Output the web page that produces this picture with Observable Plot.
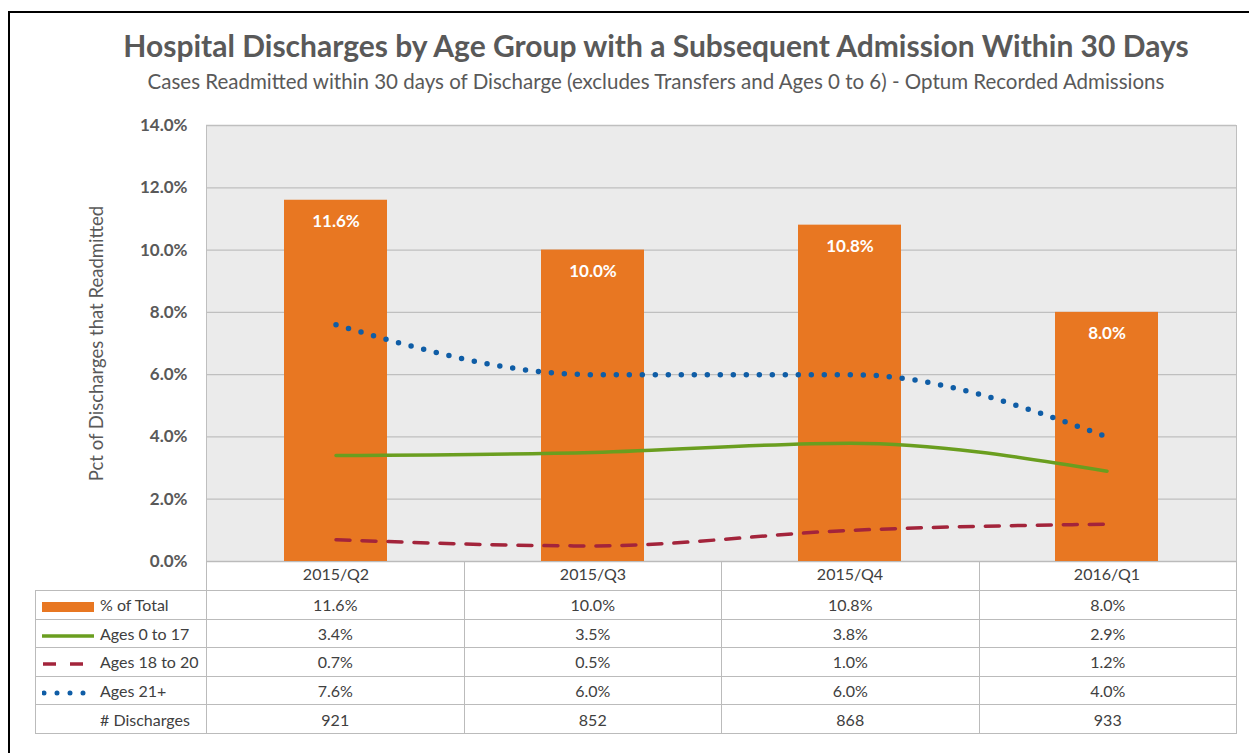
<!DOCTYPE html>
<html>
<head>
<meta charset="utf-8">
<script src="https://cdn.jsdelivr.net/npm/d3@7"></script>
<script src="https://cdn.jsdelivr.net/npm/@observablehq/plot@0.6"></script>
<style>
html, body { margin: 0; padding: 0; background: #fff; overflow: hidden; width: 1249px; height: 753px; }
body { font-family: Lato, "Open Sans", sans-serif; position: relative; }
#frame { position: absolute; left: 8px; top: 11px; width: 1300px; height: 800px; border-top: 2px solid #000; border-left: 2px solid #000; box-sizing: border-box; }
#title { position: absolute; left: 0; width: 1312px; top: 27px; text-align: center; font-weight: bold; font-size: 30px; line-height: 1.2; color: #595959; white-space: nowrap; }
#subtitle { position: absolute; left: 0; width: 1312px; top: 69px; text-align: center; font-size: 20.5px; line-height: 1.2; color: #595959; white-space: nowrap; }
#chart { position: absolute; left: 0; top: 110px; }
#table { position: absolute; left: 35px; top: 561px; border-collapse: collapse; table-layout: fixed; }
#table td { border: 1px solid #BBBBBB; color: #404040; font-size: 16px; text-align: center; padding: 0; height: 27.6px; white-space: nowrap; }
#table tr.head td { height: 28px; }
#table tr.head td.blank { border-top: none; border-left: none; }
#table td.lab { text-align: left; padding-left: 6px; }
#table td.lab svg { display: inline-block; vertical-align: middle; margin-right: 6px; }
</style>
</head>
<body>
<div id="frame"></div>
<div id="title"></div>
<div id="subtitle"></div>
<div id="chart"></div>
<script>
// ---- data ----
const titleText = "Hospital Discharges by Age Group with a Subsequent Admission Within 30 Days";
const subtitleText = "Cases Readmitted within 30 days of Discharge (excludes Transfers and Ages 0 to 6) - Optum Recorded Admissions";
const yLabel = "Pct of Discharges that Readmitted";
const quarters = ["2015/Q2", "2015/Q3", "2015/Q4", "2016/Q1"];
const pctTotal = [11.6, 10.0, 10.8, 8.0];
const ages0to17 = [3.4, 3.5, 3.8, 2.9];
const ages18to20 = [0.7, 0.5, 1.0, 1.2];
const ages21plus = [7.6, 6.0, 6.0, 4.0];
const discharges = [921, 852, 868, 933];
const yTicks = [0, 2, 4, 6, 8, 10, 12, 14];
const seriesNames = ["% of Total", "Ages 0 to 17", "Ages 18 to 20", "Ages 21+", "# Discharges"];

// ---- styles ----
const cOrange = "#E87722", cGreen = "#6A9E1F", cRed = "#A3243B", cBlue = "#0F5DA6";
const fmtPct = d => d.toFixed(1) + "%";

document.getElementById("title").textContent = titleText;
document.getElementById("subtitle").textContent = subtitleText;

const toRows = vals => quarters.map((q, i) => ({q, v: vals[i]}));
const barData = toRows(pctTotal);

const chart = Plot.plot({
  width: 1249,
  height: 481,
  marginLeft: 206,
  marginRight: 13,
  marginTop: 15,
  marginBottom: 30,
  style: {fontFamily: "Lato, 'Open Sans', sans-serif", color: "#595959", background: "transparent", overflow: "visible"},
  x: {domain: quarters, paddingInner: 0.6, paddingOuter: 0.3, label: null},
  y: {domain: [0, 14], label: null},
  marks: [
    Plot.frame({fill: "#EBEBEB"}),
    Plot.gridY(yTicks, {stroke: "#BFBFBF", strokeOpacity: 1, strokeWidth: 1.3}),
    Plot.frame({stroke: "#BFBFBF", strokeOpacity: 1}),
    Plot.barY(barData, {x: "q", y: "v", fill: cOrange}),
    Plot.text(barData, {x: "q", y: "v", text: d => fmtPct(d.v), dy: 21, fill: "white", fontWeight: "bold", fontSize: 17}),
    Plot.line(toRows(ages0to17), {x: "q", y: "v", stroke: cGreen, strokeWidth: 3.5, curve: "monotone-x"}),
    Plot.line(toRows(ages18to20), {x: "q", y: "v", stroke: cRed, strokeWidth: 3.5, strokeDasharray: "14,12", curve: "monotone-x"}),
    Plot.line(toRows(ages21plus), {x: "q", y: "v", stroke: cBlue, strokeWidth: 5.5, strokeDasharray: "0,13", strokeLinecap: "round", curve: "monotone-x"}),
    Plot.axisY(yTicks, {tickSize: 0, tickPadding: 19, tickFormat: fmtPct, fontSize: 17, fontWeight: "bold", label: null}),
    Plot.axisY([], {label: yLabel, labelAnchor: "center", labelOffset: 117, labelArrow: "none", fontSize: 18.5, tickSize: 0}),
    Plot.axisX({tickSize: 0, tickPadding: 7, fontSize: 16, fill: "#404040", label: null})
  ]
});
document.getElementById("chart").appendChild(chart);

// ---- data table below the plot ----
function keySvg(kind) {
  if (kind === 0) return `<svg width="52" height="14"><rect x="0" y="2" width="52" height="10" fill="${cOrange}"/></svg>`;
  if (kind === 1) return `<svg width="52" height="14"><line x1="0" x2="52" y1="7" y2="7" stroke="${cGreen}" stroke-width="3.5"/></svg>`;
  if (kind === 2) return `<svg width="52" height="14"><line x1="1" x2="42" y1="7" y2="7" stroke="${cRed}" stroke-width="3.5" stroke-dasharray="13,14"/></svg>`;
  if (kind === 3) return `<svg width="52" height="14"><line x1="2" x2="42" y1="7" y2="7" stroke="${cBlue}" stroke-width="5" stroke-dasharray="0,13" stroke-linecap="round"/></svg>`;
  return `<svg width="52" height="14"></svg>`;
}
const tableRows = [
  pctTotal.map(fmtPct),
  ages0to17.map(fmtPct),
  ages18to20.map(fmtPct),
  ages21plus.map(fmtPct),
  discharges.map(String)
];
const table = d3.select("body").append("table").attr("id", "table");
const cg = table.append("colgroup");
cg.append("col").style("width", "171px");
quarters.forEach(() => cg.append("col").style("width", "257.5px"));
const head = table.append("tr").attr("class", "head");
head.append("td").attr("class", "blank");
quarters.forEach(() => head.append("td"));
tableRows.forEach((vals, i) => {
  const tr = table.append("tr");
  tr.append("td").attr("class", "lab").html(keySvg(i) + seriesNames[i]);
  vals.forEach(v => tr.append("td").text(v));
});
</script>
</body>
</html>
